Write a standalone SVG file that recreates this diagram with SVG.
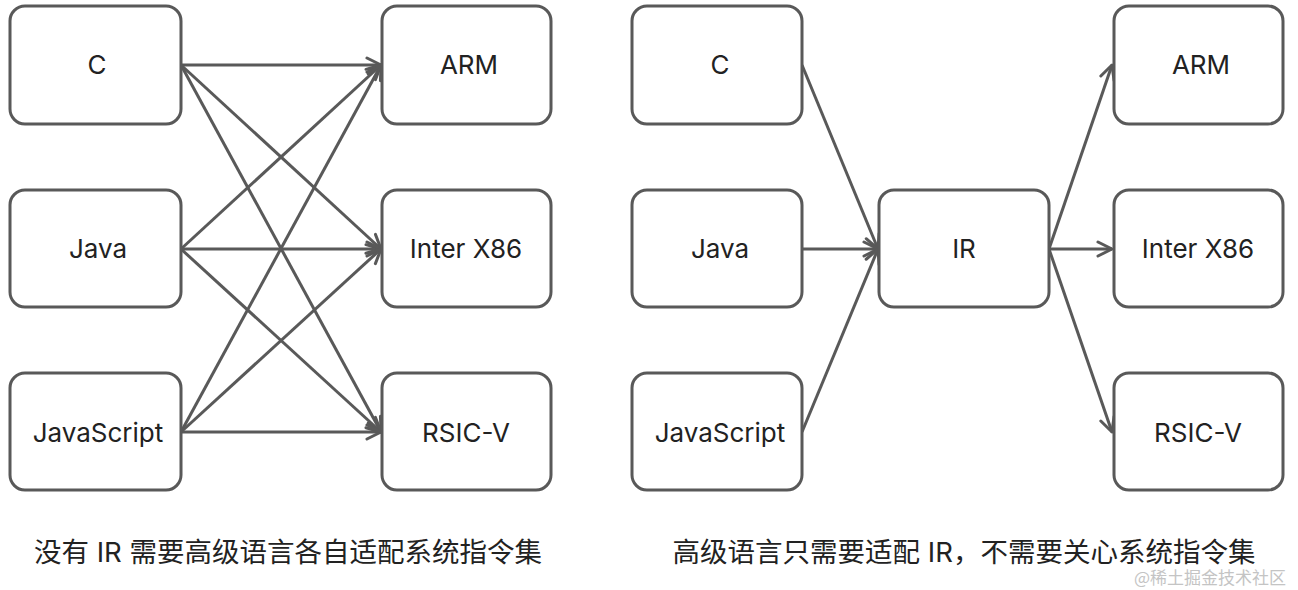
<svg xmlns="http://www.w3.org/2000/svg" width="1298" height="590" viewBox="0 0 1298 590">
<style>
.box{fill:#fff;stroke:#595959;stroke-width:3}
.lbl{font-family:Inter,"Noto Sans","Noto Sans CJK SC",sans-serif;font-size:26px;fill:#222;text-anchor:middle}
.cap{font-family:Inter,"Noto Sans CJK SC",sans-serif;font-size:27.5px;fill:#222;text-anchor:middle}
.wm{font-family:"Noto Sans CJK SC",sans-serif;font-size:17px;fill:#c4c4c4}
.edge{stroke:#595959;stroke-width:3;fill:none;marker-end:url(#arr)}
</style>
<defs>
<marker id="arr" markerUnits="userSpaceOnUse" viewBox="0 0 18 18" markerWidth="18" markerHeight="18" refX="16" refY="9" orient="auto">
<path d="M2,2 L16,9 L2,16" fill="none" stroke="#595959" stroke-width="3" stroke-linecap="round" stroke-linejoin="round"/>
</marker>
</defs>
<rect width="1298" height="590" fill="#fff"/>
<g id="connectors">
<line class="edge" x1="181" y1="65" x2="381" y2="65"/>
<line class="edge" x1="181" y1="65" x2="381" y2="249"/>
<line class="edge" x1="181" y1="65" x2="381" y2="432"/>
<line class="edge" x1="181" y1="249" x2="381" y2="65"/>
<line class="edge" x1="181" y1="249" x2="381" y2="249"/>
<line class="edge" x1="181" y1="249" x2="381" y2="432"/>
<line class="edge" x1="181" y1="432" x2="381" y2="65"/>
<line class="edge" x1="181" y1="432" x2="381" y2="249"/>
<line class="edge" x1="181" y1="432" x2="381" y2="432"/>
<line class="edge" x1="802" y1="65" x2="878" y2="249"/>
<line class="edge" x1="802" y1="249" x2="878" y2="249"/>
<line class="edge" x1="802" y1="432" x2="878" y2="249"/>
<line class="edge" x1="1049" y1="249" x2="1112" y2="65"/>
<line class="edge" x1="1049" y1="249" x2="1112" y2="249"/>
<line class="edge" x1="1049" y1="249" x2="1112" y2="432"/>
</g>
<g id="l-c"><rect class="box" x="10" y="6" width="171" height="118" rx="15"/><text class="lbl" x="97" y="74">C</text></g>
<g id="l-java"><rect class="box" x="10" y="190" width="171" height="117" rx="15"/><text class="lbl" x="98" y="258">Java</text></g>
<g id="l-js"><rect class="box" x="10" y="373" width="171" height="117" rx="15"/><text class="lbl" x="98" y="442">JavaScript</text></g>
<g id="l-arm"><rect class="box" x="382" y="6" width="169" height="118" rx="15"/><text class="lbl" x="469" y="74">ARM</text></g>
<g id="l-x86"><rect class="box" x="382" y="190" width="169" height="117" rx="15"/><text class="lbl" x="466" y="258">Inter X86</text></g>
<g id="l-rsic"><rect class="box" x="382" y="373" width="169" height="117" rx="15"/><text class="lbl" x="466" y="442">RSIC-V</text></g>
<g id="r-c"><rect class="box" x="632" y="6" width="170" height="118" rx="15"/><text class="lbl" x="720" y="74">C</text></g>
<g id="r-java"><rect class="box" x="632" y="190" width="170" height="117" rx="15"/><text class="lbl" x="720" y="258">Java</text></g>
<g id="r-js"><rect class="box" x="632" y="373" width="170" height="117" rx="15"/><text class="lbl" x="720" y="442">JavaScript</text></g>
<g id="r-ir"><rect class="box" x="879" y="190" width="170" height="117" rx="15"/><text class="lbl" x="964" y="258">IR</text></g>
<g id="r-arm"><rect class="box" x="1114" y="6" width="169" height="118" rx="15"/><text class="lbl" x="1201" y="74">ARM</text></g>
<g id="r-x86"><rect class="box" x="1114" y="190" width="169" height="117" rx="15"/><text class="lbl" x="1198" y="258">Inter X86</text></g>
<g id="r-rsic"><rect class="box" x="1114" y="373" width="169" height="117" rx="15"/><text class="lbl" x="1198" y="442">RSIC-V</text></g>
<g id="captions">
<text class="cap" x="288" y="562">没有 IR 需要高级语言各自适配系统指令集</text>
<text class="cap" x="964" y="562">高级语言只需要适配 IR，不需要关心系统指令集</text>
<text class="wm" x="1134" y="584">@稀土掘金技术社区</text>
</g>
</svg>
